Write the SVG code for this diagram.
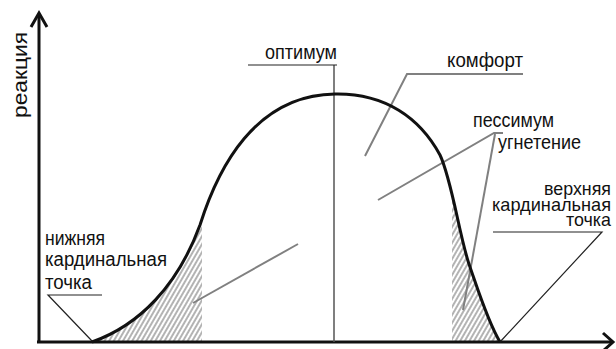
<svg xmlns="http://www.w3.org/2000/svg" width="616" height="349" viewBox="0 0 616 349">
<style>
text{font-family:"Liberation Sans",Arial,sans-serif;font-size:20px;fill:#111}
.tight{font-size:18.5px}
.axis{stroke:#111;stroke-width:3;fill:none}
.curve{stroke:#111;stroke-width:3;fill:none}
.lead{stroke:#808080;stroke-width:2;fill:none}
.thin{stroke:#222;stroke-width:1.2;fill:none}
</style>
<defs>
<pattern id="hatch" width="4" height="10" patternUnits="userSpaceOnUse" patternTransform="rotate(30)">
<line x1="1" y1="0" x2="1" y2="10" stroke="#8a8a8a" stroke-width="1.3"/>
</pattern>
<clipPath id="under">
<path d="M92,342 C140,325 178,285 200,225 C218,168 255,95 335,94 C385,93 420,118 440,155 C452,180 460,240 470,267 C478,290 488,322 500,342 Z"/>
</clipPath>
</defs>
<g id="hatching" clip-path="url(#under)">
<rect x="90" y="150" width="112" height="192" fill="url(#hatch)"/>
<rect x="452" y="150" width="50" height="192" fill="url(#hatch)"/>
</g>
<g id="axes">
<line class="axis" x1="39" y1="343" x2="39" y2="14"/>
<polyline class="axis" points="31,27 39,13 47,27"/>
<line class="axis" x1="37" y1="342" x2="612" y2="342"/>
<polyline class="axis" points="603,333 613,342 603,351"/>
<text transform="translate(27,75) rotate(-90)" text-anchor="middle" font-size="21" textLength="86" lengthAdjust="spacingAndGlyphs">реакция</text>
</g>
<g id="connectors">
<line x1="334" y1="65" x2="334" y2="342" stroke="#555" stroke-width="1.5"/>
<line class="thin" x1="248" y1="65" x2="337" y2="65"/>
<polyline class="lead" points="523,74 407,74 365,156"/>
<polyline class="lead" points="503,133 494,133 378,200"/>
<line class="lead" x1="495" y1="134" x2="463" y2="310"/>
<line class="lead" x1="298" y1="244" x2="193" y2="303"/>
<polyline class="thin" points="493,232 602,232 500,342"/>
<polyline class="thin" points="102,295 48,295 92,341"/>
</g>
<g id="curve">
<path class="curve" d="M92,342 C140,325 178,285 200,225 C218,168 255,95 335,94 C385,93 420,118 440,155 C452,180 460,240 470,267 C478,290 488,322 500,342"/>
</g>
<g id="optimum"><text x="265" y="59" textLength="72" lengthAdjust="spacingAndGlyphs">оптимум</text></g>
<g id="comfort"><text x="447" y="67" textLength="76" lengthAdjust="spacingAndGlyphs">комфорт</text></g>
<g id="pessimum"><text x="473" y="127" textLength="81" lengthAdjust="spacingAndGlyphs">пессимум</text></g>
<g id="oppression"><text x="498" y="149" textLength="83" lengthAdjust="spacingAndGlyphs">угнетение</text></g>
<g id="upper-point">
<text class="tight" x="611" y="195" text-anchor="end" textLength="67" lengthAdjust="spacingAndGlyphs">верхняя</text>
<text class="tight" x="611" y="211" text-anchor="end" textLength="119" lengthAdjust="spacingAndGlyphs">кардинальная</text>
<text class="tight" x="611" y="226" text-anchor="end" textLength="45" lengthAdjust="spacingAndGlyphs">точка</text>
</g>
<g id="lower-point">
<text x="45" y="245" textLength="60" lengthAdjust="spacingAndGlyphs">нижняя</text>
<text x="45" y="266" textLength="122" lengthAdjust="spacingAndGlyphs">кардинальная</text>
<text x="45" y="289" textLength="47" lengthAdjust="spacingAndGlyphs">точка</text>
</g>
</svg>
